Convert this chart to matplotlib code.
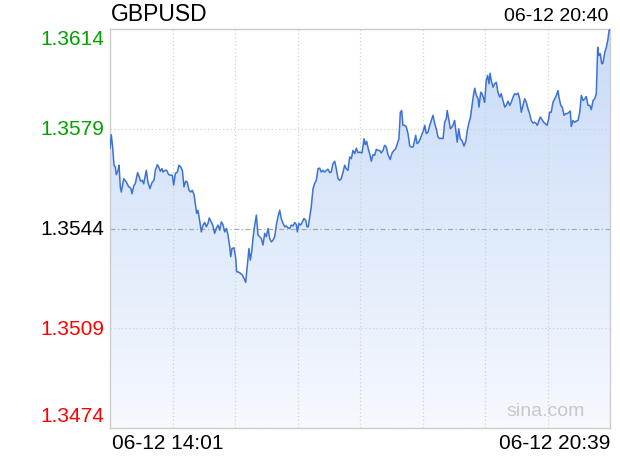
import numpy as np
import matplotlib
matplotlib.use("Agg")
import matplotlib.pyplot as plt
from matplotlib.colors import LinearSegmentedColormap
from matplotlib.patches import Polygon

plt.rcParams['font.family'] = ['Liberation Sans', 'DejaVu Sans']

# ---- data (minutes after 14:01, price) ----
minutes = [
    0, 1.0, 2.1, 3.2, 4.2, 5.0, 6.4, 7.2, 8.2, 9.0, 10.9, 13.0, 14.9, 16.5, 17.5, 19.1, 20.1, 22.0, 23.3, 24.4,
    25.7, 26.8, 28.9, 30.2, 31.8, 33.4, 35.0, 36.1, 37.7, 38.8, 40.0, 41.4, 42.2, 43.5, 45.1, 46.7, 48.3, 49.6, 50.7, 52.0,
    53.6, 54.9, 56.3, 57.6, 58.9, 60.3, 61.5, 62.9, 64.2, 65.5, 66.9, 67.9, 69.0, 70.0, 71.1, 72.7, 74.0, 75.4, 76.7, 78.0,
    79.0, 80.6, 82.0, 83.3, 84.6, 86.0, 87.3, 88.6, 89.9, 91.3, 92.6, 93.9, 95.3, 96.1, 97.1, 98.7, 100.1, 100.8, 101.9, 103.7,
    105.3, 106.7, 108.0, 109.3, 110.6, 111.7, 112.8, 113.8, 115.2, 116.5, 117.8, 119.2, 120.4, 121.8, 123.1, 124.4, 125.8, 127.1, 128.4, 129.7,
    131.1, 132.4, 133.7, 135.1, 136.3, 137.7, 139.1, 140.3, 141.7, 143.0, 144.3, 145.7, 147.0, 148.3, 149.1, 150.4, 151.8, 153.1, 154.4, 155.8,
    156.8, 157.8, 159.0, 160.2, 161.6, 162.9, 164.2, 165.6, 166.9, 168.2, 169.5, 170.9, 172.2, 173.5, 174.9, 176.1, 177.5, 178.9, 180.1, 181.5,
    182.8, 184.1, 185.5, 186.8, 188.0, 189.4, 190.8, 192.1, 193.4, 194.8, 196.1, 197.4, 198.8, 200.6, 202.2, 203.2, 204.3, 205.4, 206.7, 208.0,
    209.3, 210.7, 212.0, 213.3, 214.7, 215.9, 217.3, 218.6, 219.9, 221.3, 223.0, 224.6, 226.1, 227.4, 228.7, 230.0, 231.1, 232.2, 233.2, 234.5,
    235.9, 237.2, 238.6, 239.8, 241.2, 242.5, 243.3, 244.4, 245.7, 247.0, 248.5, 249.6, 250.5, 251.8, 253.1, 254.5, 255.8, 257.1, 258.5, 259.7,
    261.1, 262.4, 263.7, 265.1, 266.4, 267.7, 268.4, 269.6, 270.9, 272.2, 273.5, 274.3, 275.6, 276.4, 277.6, 278.8, 280.2, 281.8, 283.2, 284.4,
    285.8, 286.8, 288.2, 289.5, 290.3, 291.6, 293.0, 293.7, 295.1, 296.1, 297.5, 298.2, 299.5, 300.6, 301.7, 302.5, 303.5, 304.9, 306.2, 307.5,
    308.8, 310.2, 311.4, 312.8, 314.2, 315.4, 316.8, 318.2, 319.4, 320.8, 322.1, 323.4, 324.8, 326.1, 327.4, 328.7, 330.1, 331.4, 332.7, 334.0,
    335.3, 336.7, 338.0, 339.3, 340.1, 341.5, 342.5, 343.9, 345.2, 346.4, 347.9, 349.2, 349.9, 351.2, 352.6, 354.0, 355.3, 356.6, 357.4, 358.8,
    360.0, 361.4, 362.7, 364.0, 365.4, 366.4, 367.2, 368.5, 369.9, 371.2, 372.5, 373.9, 375.2, 376.5, 377.9, 379.1, 380.5, 381.9, 383.1, 384.5,
    385.8, 387.1, 388.2, 389.2, 390.3, 391.4, 392.4, 393.8, 395.1, 396.4, 397.2, 398.0,
]
prices = [
    1.35722, 1.35769, 1.35726, 1.35662, 1.35656, 1.35629, 1.35644, 1.35662, 1.35586, 1.35568, 1.35615, 1.35603, 1.35586, 1.35582, 1.35562, 1.35592, 1.35597, 1.35636, 1.35621, 1.35606,
    1.35609, 1.35597, 1.35644, 1.35603, 1.35580, 1.35601, 1.35609, 1.35644, 1.35664, 1.35656, 1.35641, 1.35650, 1.35638, 1.35644, 1.35644, 1.35629, 1.35627, 1.35627, 1.35592, 1.35633,
    1.35638, 1.35662, 1.35656, 1.35644, 1.35586, 1.35606, 1.35603, 1.35574, 1.35568, 1.35574, 1.35559, 1.35528, 1.35493, 1.35504, 1.35475, 1.35428, 1.35452, 1.35461, 1.35446, 1.35458,
    1.35477, 1.35463, 1.35449, 1.35423, 1.35440, 1.35452, 1.35434, 1.35463, 1.35454, 1.35428, 1.35440, 1.35417, 1.35376, 1.35341, 1.35370, 1.35372, 1.35335, 1.35288, 1.35288, 1.35283,
    1.35277, 1.35265, 1.35251, 1.35312, 1.35370, 1.35329, 1.35358, 1.35405, 1.35452, 1.35487, 1.35417, 1.35411, 1.35405, 1.35382, 1.35423, 1.35411, 1.35440, 1.35405, 1.35393, 1.35399,
    1.35411, 1.35452, 1.35481, 1.35504, 1.35475, 1.35458, 1.35446, 1.35449, 1.35442, 1.35440, 1.35452, 1.35449, 1.35461, 1.35454, 1.35428, 1.35458, 1.35452, 1.35463, 1.35475, 1.35469,
    1.35446, 1.35446, 1.35481, 1.35516, 1.35580, 1.35598, 1.35609, 1.35650, 1.35652, 1.35638, 1.35644, 1.35638, 1.35644, 1.35648, 1.35636, 1.35638, 1.35668, 1.35676, 1.35650, 1.35615,
    1.35609, 1.35615, 1.35638, 1.35662, 1.35650, 1.35644, 1.35691, 1.35685, 1.35714, 1.35703, 1.35722, 1.35706, 1.35708, 1.35705, 1.35755, 1.35734, 1.35746, 1.35722, 1.35703, 1.35676,
    1.35699, 1.35697, 1.35718, 1.35714, 1.35714, 1.35705, 1.35714, 1.35732, 1.35726, 1.35699, 1.35682, 1.35706, 1.35714, 1.35720, 1.35738, 1.35755, 1.35848, 1.35854, 1.35802, 1.35802,
    1.35796, 1.35773, 1.35729, 1.35726, 1.35726, 1.35749, 1.35767, 1.35738, 1.35743, 1.35755, 1.35773, 1.35784, 1.35802, 1.35773, 1.35778, 1.35802, 1.35819, 1.35837, 1.35808, 1.35790,
    1.35761, 1.35755, 1.35757, 1.35755, 1.35813, 1.35825, 1.35854, 1.35825, 1.35790, 1.35796, 1.35808, 1.35819, 1.35773, 1.35743, 1.35790, 1.35755, 1.35749, 1.35729, 1.35746, 1.35784,
    1.35813, 1.35827, 1.35872, 1.35913, 1.35932, 1.35907, 1.35895, 1.35866, 1.35918, 1.35913, 1.35895, 1.35883, 1.35959, 1.35977, 1.35948, 1.35985, 1.35959, 1.35936, 1.35948, 1.35953,
    1.35918, 1.35901, 1.35913, 1.35889, 1.35866, 1.35872, 1.35887, 1.35872, 1.35883, 1.35901, 1.35913, 1.35910, 1.35915, 1.35895, 1.35848, 1.35872, 1.35895, 1.35883, 1.35860, 1.35843,
    1.35819, 1.35810, 1.35813, 1.35808, 1.35802, 1.35819, 1.35831, 1.35822, 1.35813, 1.35808, 1.35802, 1.35825, 1.35848, 1.35848, 1.35883, 1.35895, 1.35907, 1.35924, 1.35901, 1.35872,
    1.35866, 1.35837, 1.35843, 1.35843, 1.35848, 1.35852, 1.35798, 1.35819, 1.35813, 1.35817, 1.35819, 1.35848, 1.35907, 1.35889, 1.35895, 1.35903, 1.35872, 1.35872, 1.35857, 1.35889,
    1.35895, 1.35913, 1.36076, 1.36047, 1.36053, 1.36018, 1.36020, 1.36058, 1.36076, 1.36105, 1.36134, 1.36140,
]

y_ticks = [1.3614, 1.3579, 1.3544, 1.3509, 1.3474]
y_tick_labels = ["1.3614", "1.3579", "1.3544", "1.3509", "1.3474"]
y_tick_colors = ["#00a000", "#00a000", "#000000", "#ff0000", "#ff0000"]
prev_close = 1.3544
x_span = 398
x_labels = ["06-12 14:01", "06-12 20:39"]
title = "GBPUSD"
stamp = "06-12 20:40"
watermark = "sina.com"

x = np.array(minutes)
y = np.array(prices)

fig = plt.figure(figsize=(6.2, 4.6), dpi=100)
ax = fig.add_axes([110/620, 31/460, 500/620, 399/460])
ax.set_xlim(0, x_span)
ax.set_ylim(y_ticks[-1], y_ticks[0])

# gridlines
for i in range(1, 8):
    ax.axvline(x_span * i / 8, color="#d2d2d2", lw=0.9, ls=(0, (1, 2)), zorder=1)
for v in (y_ticks[1], y_ticks[3]):
    ax.axhline(v, color="#d2d2d2", lw=0.9, ls=(0, (1, 2)), zorder=1)

# gradient fill under line
cmap = LinearSegmentedColormap.from_list("g", ["#c8dbf8", "#f6f9fe"])
grad = np.linspace(0, 1, 256).reshape(-1, 1)
im = ax.imshow(grad, cmap=cmap, aspect="auto",
               extent=[0, x_span, y_ticks[-1], y_ticks[0]], origin="upper", zorder=0.5)
verts = np.vstack([[x[0], y_ticks[-1]], np.column_stack([x, y]), [x[-1], y_ticks[-1]]])
poly = Polygon(verts, closed=True, transform=ax.transData, facecolor="none", edgecolor="none")
ax.add_patch(poly)
im.set_clip_path(poly)

ax.axhline(prev_close, color="#a8a8a8", lw=0.9, ls=(0, (4, 2, 1, 2)), zorder=2)

ax.plot(x, y, color="#3d72d4", lw=1.1, zorder=3)

for s in ax.spines.values():
    s.set_color("#cccccc")
    s.set_linewidth(1)
ax.set_xticks([])
ax.set_yticks([])

ytr = ax.get_yaxis_transform()
for i, (v, lab, c) in enumerate(zip(y_ticks, y_tick_labels, y_tick_colors)):
    va = "center"
    dy = 0
    if i == 0:
        va = "top"
    elif i == len(y_ticks) - 1:
        va = "bottom"
        dy = 2.2
    ax.annotate(lab, xy=(-0.012, v), xycoords=ytr, xytext=(0, dy), textcoords="offset points",
                color=c, fontsize=15, ha="right", va=va, annotation_clip=False)

ax.text(0.004, -0.037, x_labels[0], fontsize=15, ha="left", va="center", transform=ax.transAxes)
ax.text(1.0, -0.037, x_labels[1], fontsize=15, ha="right", va="center", transform=ax.transAxes)
ax.text(0.002, 1.04, title, fontsize=16.5, ha="left", va="center", transform=ax.transAxes)
ax.text(0.996, 1.034, stamp, fontsize=14, ha="right", va="center", transform=ax.transAxes)
ax.text(0.95, 0.043, watermark, fontsize=14, color="#c8c8c8", ha="right", va="center",
        transform=ax.transAxes)

fig.savefig("out.png", dpi=100)
